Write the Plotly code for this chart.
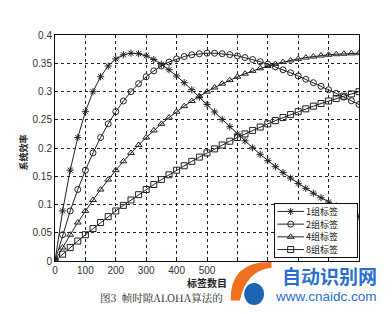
import plotly.graph_objects as go

tags = [0, 25, 50, 75, 100, 125, 150, 175, 200, 225, 250, 275, 300, 325, 350, 375, 400,
        425, 450, 475, 500, 525, 550, 575, 600, 625, 650, 675, 700, 725, 750, 775, 800,
        825, 850, 875, 900, 925, 950, 975, 1000]

group1 = [0, 0.0886, 0.1607, 0.2186, 0.2643, 0.2997, 0.3261, 0.3451, 0.3577, 0.3650, 0.3678,
          0.3669, 0.3631, 0.3567, 0.3484, 0.3385, 0.3275, 0.3156, 0.3031, 0.2901, 0.2771,
          0.2638, 0.2507, 0.2377, 0.2249, 0.2126, 0.2004, 0.1888, 0.1776, 0.1668, 0.1565,
          0.1467, 0.1373, 0.1285, 0.1200, 0.1120, 0.1045, 0.0974, 0.0908, 0.0845, 0.0786]
group2 = [0, 0.0465, 0.0886, 0.1265, 0.1607, 0.1913, 0.2186, 0.2428, 0.2643, 0.2832, 0.2997,
          0.3139, 0.3261, 0.3365, 0.3451, 0.3521, 0.3577, 0.3619, 0.3650, 0.3668, 0.3678,
          0.3677, 0.3669, 0.3653, 0.3631, 0.3601, 0.3567, 0.3528, 0.3484, 0.3437, 0.3385,
          0.3332, 0.3275, 0.3216, 0.3156, 0.3093, 0.3031, 0.2967, 0.2901, 0.2836, 0.2771]
group4 = [0, 0.0238, 0.0465, 0.0681, 0.0886, 0.1080, 0.1265, 0.1441, 0.1607, 0.1764, 0.1913,
          0.2053, 0.2186, 0.2311, 0.2428, 0.2539, 0.2643, 0.2741, 0.2832, 0.2917, 0.2997,
          0.3071, 0.3139, 0.3202, 0.3261, 0.3315, 0.3365, 0.3410, 0.3451, 0.3488, 0.3521,
          0.3550, 0.3577, 0.3600, 0.3619, 0.3636, 0.3650, 0.3660, 0.3668, 0.3674, 0.3678]
group8 = [0, 0.0121, 0.0238, 0.0353, 0.0465, 0.0574, 0.0681, 0.0785, 0.0886, 0.0984, 0.1080,
          0.1174, 0.1265, 0.1354, 0.1441, 0.1525, 0.1607, 0.1686, 0.1764, 0.1839, 0.1913,
          0.1984, 0.2053, 0.2120, 0.2186, 0.2249, 0.2311, 0.2371, 0.2428, 0.2485, 0.2539,
          0.2592, 0.2643, 0.2693, 0.2741, 0.2787, 0.2832, 0.2875, 0.2917, 0.2957, 0.2997]

series_names = ["1组标签", "2组标签", "4组标签", "8组标签"]
x_tick_vals = [0, 100, 200, 300, 400, 500, 600, 700, 800, 900, 1000]
x_tick_text = ["0", "100", "200", "300", "400", "500", "", "", "", "", ""]
y_tick_vals = [0, 0.05, 0.1, 0.15, 0.2, 0.25, 0.3, 0.35, 0.4]
y_tick_text = ["0", "0.05", "0.1", "0.15", "0.2", "0.25", "0.3", "0.35", "0.4"]

symbols = ["asterisk-open", "circle-open", "triangle-up-open", "square-open"]
INK = "#222"

fig = go.Figure()
for name, ys, sym in zip(series_names, [group1, group2, group4, group8], symbols):
    fig.add_trace(go.Scatter(
        x=tags, y=ys, name=name, mode="lines+markers", showlegend=False,
        line=dict(color=INK, width=1),
        marker=dict(symbol=sym, size=6, color=INK, line=dict(color=INK, width=1)),
    ))

# compact legend drawn in an inset axis (rows 0..3)
for i, (name, sym) in enumerate(zip(series_names, symbols)):
    fig.add_trace(go.Scatter(
        x=[0.3, 2.0, 3.7], y=[i, i, i], mode="lines", showlegend=False,
        xaxis="x2", yaxis="y2", line=dict(color=INK, width=1), hoverinfo="skip",
    ))
    fig.add_trace(go.Scatter(
        x=[2.0], y=[i], mode="markers", showlegend=False, xaxis="x2", yaxis="y2",
        marker=dict(symbol=sym, size=6, color=INK, line=dict(color=INK, width=1)),
        hoverinfo="skip",
    ))
    fig.add_annotation(text=name, xref="x2", yref="y2", x=3.9, y=i, xanchor="left",
                       yanchor="middle", showarrow=False, borderpad=0,
                       font=dict(family="Noto Sans CJK SC", size=9, color="#111"))

axis_common = dict(
    showline=True, linecolor="#111", linewidth=1, mirror=True,
    showgrid=True, gridcolor="#222", griddash="dot", gridwidth=1,
    ticks="inside", ticklen=3, tickcolor="#111", zeroline=False,
    tickfont=dict(family="Arial, Liberation Sans, sans-serif", size=10, color="#333"),
)

fig.update_layout(
    width=392, height=314,
    margin=dict(l=55, r=33, t=35, b=53),
    paper_bgcolor="white", plot_bgcolor="white",
    xaxis=dict(range=[0, 1000], tickvals=x_tick_vals, ticktext=x_tick_text, **axis_common),
    yaxis=dict(range=[0, 0.4], tickvals=y_tick_vals, ticktext=y_tick_text, **axis_common),
    xaxis2=dict(domain=[0.724, 0.993], anchor="y2", range=[0, 10.5], showgrid=False,
                zeroline=False, showticklabels=False, ticks="", showline=True,
                linecolor="#111", linewidth=1, mirror=True, fixedrange=True),
    yaxis2=dict(domain=[0.018, 0.252], anchor="x2", range=[3.58, -0.58], showgrid=False,
                zeroline=False, showticklabels=False, ticks="", showline=True,
                linecolor="#111", linewidth=1, mirror=True, fixedrange=True),
)

fig.add_annotation(text="<b>标签数目</b>", xref="paper", yref="paper", x=0.5, y=-0.093,
                   xanchor="center", yanchor="middle", showarrow=False, borderpad=0,
                   font=dict(family="Noto Sans CJK SC", size=10, color="#222"))
fig.add_annotation(text="<b>系统效率</b>", xref="paper", yref="paper", x=-0.105, y=0.48,
                   xanchor="center", yanchor="middle", textangle=-90, showarrow=False,
                   font=dict(family="Noto Sans CJK SC", size=9, color="#222"))
fig.add_annotation(text="图3  帧时隙ALOHA算法的", xref="paper", yref="paper", x=0.145, y=-0.161,
                   xanchor="left", yanchor="middle", showarrow=False, borderpad=0,
                   font=dict(family="Noto Serif CJK SC, Noto Sans CJK SC, serif", size=10.5, color="#222"))

# watermark (logo + site name)
fig.add_shape(type="path", xref="paper", yref="paper", layer="above",
              path="M 0.578 -0.175 Q 0.575 0.0 0.712 -0.004 L 0.712 -0.03 "
                   "Q 0.63 -0.04 0.608 -0.175 Z",
              fillcolor="#f07020", line=dict(width=0))
fig.add_shape(type="circle", xref="paper", yref="paper", layer="above",
              x0=0.622, x1=0.688, y0=-0.195, y1=-0.097,
              fillcolor="#1e63b5", line=dict(width=0))
fig.add_annotation(text="<b>自动识别网</b>", xref="paper", yref="paper", x=1.064, y=-0.062,
                   xanchor="right", yanchor="middle", showarrow=False, borderpad=0,
                   font=dict(family="Noto Sans CJK SC", size=19, color="#2a6fd0"))
fig.add_annotation(text="www.cnaidc.com", xref="paper", yref="paper", x=1.064, y=-0.155,
                   xanchor="right", yanchor="middle", showarrow=False, borderpad=0,
                   font=dict(family="Arial, Liberation Sans, sans-serif", size=13.5, color="#2a6fd0"))

fig.write_html("out.html")
